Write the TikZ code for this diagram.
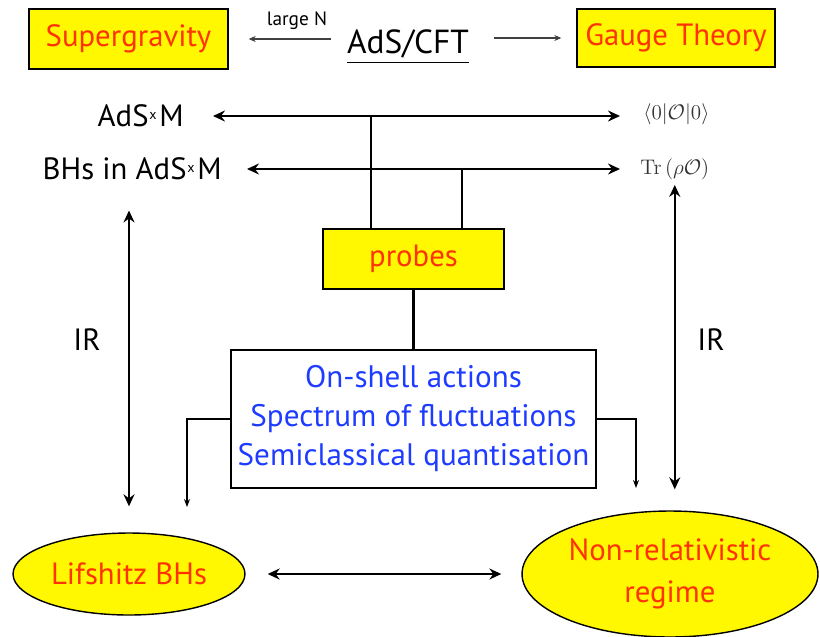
\documentclass[tikz,border=0pt]{standalone}
\usepackage[no-math]{fontspec}
\setmainfont{PT Sans}
\usepackage{amsmath}
\usepackage{amssymb}
\usetikzlibrary{shapes.geometric,arrows.meta}
\definecolor{boxyellow}{RGB}{255,248,0}
\definecolor{labelred}{RGB}{255,51,0}
\definecolor{listblue}{RGB}{30,60,255}
\newcommand{\adsx}{AdS\kern0.5pt\raisebox{0.45ex}{\fontsize{8}{8}\selectfont x}\kern1.5pt M}

\begin{document}
\begin{tikzpicture}[x=0.02cm,y=-0.02cm,
		redbox/.style={draw,line width=0.8pt,fill=boxyellow,inner sep=0pt,text=labelred,font=\fontsize{17.5}{24}\selectfont},
		redoval/.style={redbox,ellipse},
		plainlabel/.style={inner sep=0pt,font=\fontsize{17.5}{21}\selectfont},
		dblarr/.style={line width=1.3pt,{Stealth[length=2.4mm,width=2.2mm,inset=0.8mm]}-{Stealth[length=2.4mm,width=2.2mm,inset=0.8mm]}},
		thinarr/.style={line width=0.6pt,-{Stealth[length=1.6mm,width=1.2mm]}},
		toparr/.style={line width=0.6pt,black!75,-{Stealth[length=1.4mm,width=1.2mm]}},
	]
	\useasboundingbox (0,0) rectangle (820,636);

	% top row
	\node[redbox,minimum width=3.98cm,minimum height=1.2cm](sugra) at (128.5,39) {Supergravity};
	\node[redbox,minimum width=3.96cm,minimum height=1.16cm](gauge) at (676,38) {Gauge Theory};
	\node[plainlabel,anchor=base,font=\fontsize{19}{22}\selectfont](adscft) at (408,53) {\underline{AdS/CFT}};
	\node[inner sep=0pt,font=\fontsize{11}{13}\selectfont](largeN) at (297,21) {large N};
	\draw[toparr,shorten <=0.32cm,shorten >=0.4cm](sugra.east -| adscft.west)--(sugra.east);
	\draw[toparr,shorten <=0.5cm,shorten >=0.3cm](gauge.west -| adscft.east)--(gauge.west);

	% gravity side and field theory side
	\node[plainlabel,anchor=east](adsm) at (184,116) {\adsx};
	\node[plainlabel,anchor=east](bhs) at (222,169) {BHs in \adsx};
	\node[inner sep=0pt,anchor=west,text=black!80,font=\fontsize{12.5}{14}\selectfont](vev) at (643,114) {$\langle 0|\mathcal{O}|0\rangle$};
	\node[inner sep=0pt,anchor=west,text=black!80,font=\fontsize{12.5}{14}\selectfont](trace) at (640,169) {$\mathrm{Tr}\,(\rho\mathcal{O})$};
	\draw[dblarr,shorten <=0.58cm,shorten >=0.46cm](adsm.east)--(adsm.east -| vev.west);
	\draw[dblarr,shorten <=0.5cm,shorten >=0.4cm](bhs.east)--(bhs.east -| trace.west);

	% probes
	\node[redbox,minimum width=3.62cm,minimum height=1.2cm](probes) at (413.5,259) {probes};
	\coordinate[](j1) at (371,116);
	\coordinate[](j2) at (462,169);
	\draw[line width=1.2pt](j1)--(j1 |- probes.north);
	\draw[line width=1.2pt](j2)--(j2 |- probes.north);
	\node[draw,line width=0.8pt,inner sep=0pt,minimum width=7.3cm,minimum height=2.76cm,align=center,text=listblue,font=\fontsize{17.7}{22.2}\selectfont](methods) at (413.5,419) {\raisebox{-3pt}{On-shell actions}\\\raisebox{-3pt}{Spectrum of fluctuations}\\\raisebox{-3pt}{Semiclassical quantisation}};
	\draw[line width=1.2pt](probes.south)--(methods.north);

	% IR limits
	\node[redoval,minimum width=4.64cm,minimum height=1.64cm](lif) at (129,574) {Lifshitz BHs};
	\node[redoval,minimum width=5.92cm,minimum height=2.52cm,align=center](nonrel) at (670,574) {Non-relativistic\\regime};
	\draw[dblarr,shorten <=0.44cm,shorten >=0.4cm](lif.east)--(nonrel.west);
	\draw[dblarr,shorten <=0.6cm,shorten >=0.52cm](lif.north |- bhs.south)--(lif.north);
	\draw[dblarr,shorten <=0.1cm,shorten >=0.42cm](trace.south)--(trace.south |- nonrel.north);
	\node[plainlabel](irl) at (87,340) {IR};
	\node[plainlabel](irr) at (711,340) {IR};

	\coordinate[](lend) at (187,507);
	\coordinate[](rend) at (636,488);
	\draw[thinarr](methods.west)-|(lend);
	\draw[thinarr](methods.east)-|(rend);
\end{tikzpicture}
\end{document}
